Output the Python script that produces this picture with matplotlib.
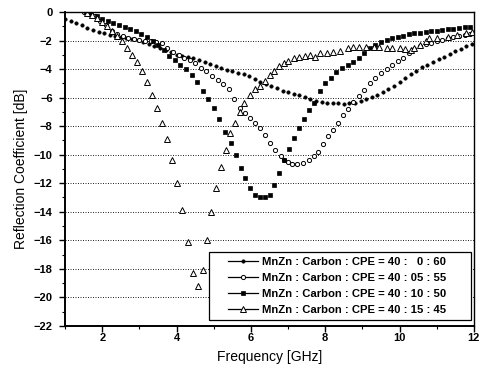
import matplotlib
matplotlib.use("Agg")
import matplotlib.pyplot as plt
from matplotlib.lines import Line2D
from matplotlib.legend_handler import HandlerLine2D
from matplotlib.ticker import MultipleLocator

plt.rcParams['font.family'] = ['Liberation Sans', 'DejaVu Sans']

# MnZn : Carbon : CPE = 40 : 0 : 60  (filled circles)
f1 = [1.0, 1.15, 1.3, 1.45, 1.6, 1.75, 1.9, 2.05, 2.2, 2.35, 2.5, 2.65, 2.8, 2.95,
      3.1, 3.25, 3.4, 3.55, 3.7, 3.85, 4.0, 4.15, 4.3, 4.45, 4.6, 4.75, 4.9, 5.05,
      5.2, 5.35, 5.5, 5.65, 5.8, 5.95, 6.1, 6.25, 6.4, 6.55, 6.7, 6.85, 7.0, 7.15,
      7.3, 7.45, 7.6, 7.75, 7.9, 8.05, 8.2, 8.35, 8.5, 8.65, 8.8, 8.95, 9.1, 9.25,
      9.4, 9.55, 9.7, 9.85, 10.0, 10.15, 10.3, 10.45, 10.6, 10.75, 10.9, 11.05,
      11.2, 11.35, 11.5, 11.65, 11.8, 11.95]
r1 = [-0.5, -0.63, -0.77, -0.9, -1.12, -1.26, -1.38, -1.5, -1.6, -1.67, -1.73, -1.8,
      -1.88, -1.98, -2.1, -2.22, -2.36, -2.5, -2.66, -2.83, -3.0, -3.08, -3.15, -3.25,
      -3.38, -3.52, -3.65, -3.8, -3.92, -4.03, -4.13, -4.25, -4.37, -4.5, -4.7, -4.9,
      -5.05, -5.2, -5.35, -5.5, -5.62, -5.73, -5.83, -5.95, -6.08, -6.2, -6.3, -6.35,
      -6.38, -6.4, -6.42, -6.4, -6.35, -6.25, -6.1, -5.98, -5.82, -5.62, -5.4, -5.15,
      -4.88, -4.6, -4.35, -4.1, -3.88, -3.68, -3.5, -3.3, -3.12, -2.95, -2.75, -2.57,
      -2.4, -2.22]

# 40 : 05 : 55  (open circles)
f2 = [1.5, 1.65, 1.8, 1.95, 2.1, 2.25, 2.4, 2.55, 2.7, 2.85, 3.0, 3.15, 3.3, 3.45,
      3.6, 3.75, 3.9, 4.05, 4.2, 4.35, 4.5, 4.65, 4.8, 4.95, 5.1, 5.25, 5.4, 5.55,
      5.7, 5.83, 5.97, 6.1, 6.24, 6.38, 6.5, 6.65, 6.8, 6.9, 7.0, 7.1, 7.25, 7.4,
      7.55, 7.7, 7.8, 7.94, 8.07, 8.2, 8.34, 8.47, 8.6, 8.75, 8.9, 9.05, 9.2, 9.35,
      9.5, 9.65, 9.8, 9.95, 10.1, 10.25, 10.4, 10.55, 10.7, 10.85, 11.0, 11.15,
      11.3, 11.45, 11.6, 11.75, 11.9]
r2 = [-0.02, -0.1, -0.3, -0.6, -0.9, -1.3, -1.55, -1.7, -1.8, -1.88, -1.94, -2.0,
      -2.05, -2.1, -2.2, -2.5, -2.8, -3.02, -3.2, -3.35, -3.6, -3.9, -4.15, -4.45,
      -4.75, -5.05, -5.4, -6.1, -6.7, -7.05, -7.4, -7.75, -8.1, -8.6, -9.2, -9.7,
      -10.1, -10.4, -10.5, -10.65, -10.65, -10.55, -10.4, -10.1, -9.8, -9.25, -8.7,
      -8.3, -7.8, -7.2, -6.8, -6.3, -5.9, -5.45, -5.0, -4.65, -4.3, -4.0, -3.7,
      -3.45, -3.2, -2.9, -2.6, -2.4, -2.25, -2.15, -2.05, -1.95, -1.85, -1.78,
      -1.7, -1.62, -1.55]

# 40 : 10 : 50  (filled squares)
f3 = [1.55, 1.7, 1.85, 2.0, 2.15, 2.3, 2.45, 2.6, 2.75, 2.9, 3.05, 3.2, 3.35, 3.5,
      3.65, 3.8, 3.95, 4.1, 4.25, 4.4, 4.55, 4.7, 4.85, 5.0, 5.15, 5.3, 5.45, 5.6,
      5.72, 5.85, 5.97, 6.1, 6.24, 6.38, 6.5, 6.62, 6.75, 6.9, 7.02, 7.15, 7.3,
      7.42, 7.55, 7.7, 7.85, 8.0, 8.15, 8.3, 8.45, 8.6, 8.75, 8.9, 9.05, 9.2, 9.35,
      9.5, 9.65, 9.8, 9.95, 10.1, 10.25, 10.4, 10.55, 10.7, 10.85, 11.0, 11.15,
      11.3, 11.45, 11.6, 11.75, 11.9]
r3 = [-0.02, -0.15, -0.3, -0.45, -0.6, -0.75, -0.9, -1.05, -1.2, -1.35, -1.55, -1.75,
      -2.0, -2.3, -2.65, -3.05, -3.35, -3.7, -4.0, -4.4, -4.9, -5.5, -6.1, -6.75,
      -7.5, -8.4, -9.2, -10.0, -10.9, -11.6, -12.3, -12.8, -13.0, -12.95, -12.8,
      -12.1, -11.3, -10.4, -9.6, -8.8, -8.1, -7.5, -6.9, -6.4, -5.5, -5.0, -4.6,
      -4.2, -3.9, -3.7, -3.5, -3.2, -2.85, -2.55, -2.3, -2.1, -1.95, -1.85, -1.75,
      -1.65, -1.57, -1.5, -1.45, -1.4, -1.35, -1.3, -1.27, -1.22, -1.18, -1.13,
      -1.08, -1.03]

# 40 : 15 : 45  (open triangles)
f4 = [1.6, 1.73, 1.86, 2.0, 2.13, 2.27, 2.4, 2.53, 2.67, 2.8, 2.93, 3.06, 3.2, 3.33,
      3.47, 3.6, 3.74, 3.87, 4.0, 4.15, 4.3, 4.43, 4.58, 4.7, 4.82, 4.92, 5.06, 5.2,
      5.33, 5.44, 5.57, 5.7, 5.8, 5.97, 6.1, 6.24, 6.37, 6.5, 6.62, 6.75, 6.88, 7.0,
      7.15, 7.3, 7.45, 7.6, 7.72, 7.85, 8.05, 8.2, 8.4, 8.6, 8.75, 8.9, 9.1, 9.3,
      9.45, 9.65, 9.8, 10.0, 10.15, 10.3, 10.4, 10.55, 10.7, 10.8, 11.0, 11.3,
      11.55, 11.8, 11.95]
r4 = [-0.05, -0.2, -0.4, -0.7, -1.0, -1.35, -1.7, -2.05, -2.5, -3.0, -3.5, -4.1,
      -4.9, -5.8, -6.7, -7.8, -8.9, -10.4, -12.0, -13.9, -16.1, -18.3, -19.2, -18.1,
      -16.0, -14.0, -12.3, -10.85, -9.7, -8.5, -7.75, -7.0, -6.4, -5.8, -5.4, -5.15,
      -4.8, -4.4, -4.1, -3.75, -3.6, -3.4, -3.25, -3.15, -3.1, -3.0, -3.15, -2.9,
      -2.9, -2.8, -2.7, -2.55, -2.45, -2.45, -2.45, -2.45, -2.45, -2.5, -2.55, -2.55,
      -2.6, -2.65, -2.5, -2.3, -2.0, -1.8, -1.8, -1.75, -1.6, -1.45, -1.4]

labels = ['MnZn : Carbon : CPE = 40 :   0 : 60',
          'MnZn : Carbon : CPE = 40 : 05 : 55',
          'MnZn : Carbon : CPE = 40 : 10 : 50',
          'MnZn : Carbon : CPE = 40 : 15 : 45']

fig = plt.figure(figsize=(4.83, 3.78), dpi=100)
ax = fig.add_axes([0.135, 0.138, 0.846, 0.830])

styles = [
    dict(marker='o', ms=2.4, mfc='black', mec='black', mew=0.5),
    dict(marker='o', ms=3.0, mfc='white', mec='black', mew=0.7),
    dict(marker='s', ms=2.9, mfc='black', mec='black', mew=0.5),
    dict(marker='^', ms=3.7, mfc='white', mec='black', mew=0.7),
]
series = [(f1, r1), (f2, r2), (f3, r3), (f4, r4)]

handles = []
for (x, y), st, lab in zip(series, styles, labels):
    ax.plot(x, y, linestyle='none', **st)
    handles.append(Line2D([], [], color='black', lw=0.9, label=lab, **st))

ax.set_xlim(1, 12)
ax.set_ylim(-22, 0)
ax.xaxis.set_major_locator(MultipleLocator(2))
ax.xaxis.set_minor_locator(MultipleLocator(1))
ax.yaxis.set_major_locator(MultipleLocator(2))
ax.yaxis.set_minor_locator(MultipleLocator(1))
ax.set_xticks([2, 4, 6, 8, 10, 12])

for y in range(-20, 0, 2):
    ax.axhline(y, color='black', lw=0.6, linestyle=(0, (1.2, 1.8)), zorder=0)

ax.tick_params(which='major', direction='out', length=4, width=1.0,
               labelsize=8, top=False, right=False)
ax.tick_params(axis='x', which='major', pad=1.5)
ax.tick_params(axis='y', which='major', pad=5)
ax.tick_params(which='minor', direction='out', length=2.5, width=0.8,
               top=False, right=False)
for lab in ax.get_xticklabels() + ax.get_yticklabels():
    lab.set_fontweight('bold')
for sp in ax.spines.values():
    sp.set_linewidth(1.0)
ax.spines['left'].set_linewidth(1.4)
ax.spines['bottom'].set_linewidth(1.4)

ax.set_xlabel('Frequency [GHz]', fontsize=10, labelpad=5)
ax.set_ylabel('Reflection Coefficient [dB]', fontsize=10, labelpad=4)

leg = ax.legend(handles=handles, loc='lower left',
                bbox_to_anchor=(0.352, 0.019, 0.641, 0.22), mode='expand',
                borderaxespad=0, fancybox=False, edgecolor='black', framealpha=1,
                handlelength=3.9, handletextpad=0.4, labelspacing=0.52,
                borderpad=0.45, prop={'weight': 'bold', 'size': 8.1},
                handler_map={Line2D: HandlerLine2D(xpad=1.25)})
leg.get_frame().set_linewidth(0.9)

fig.savefig('out.png', dpi=100)
